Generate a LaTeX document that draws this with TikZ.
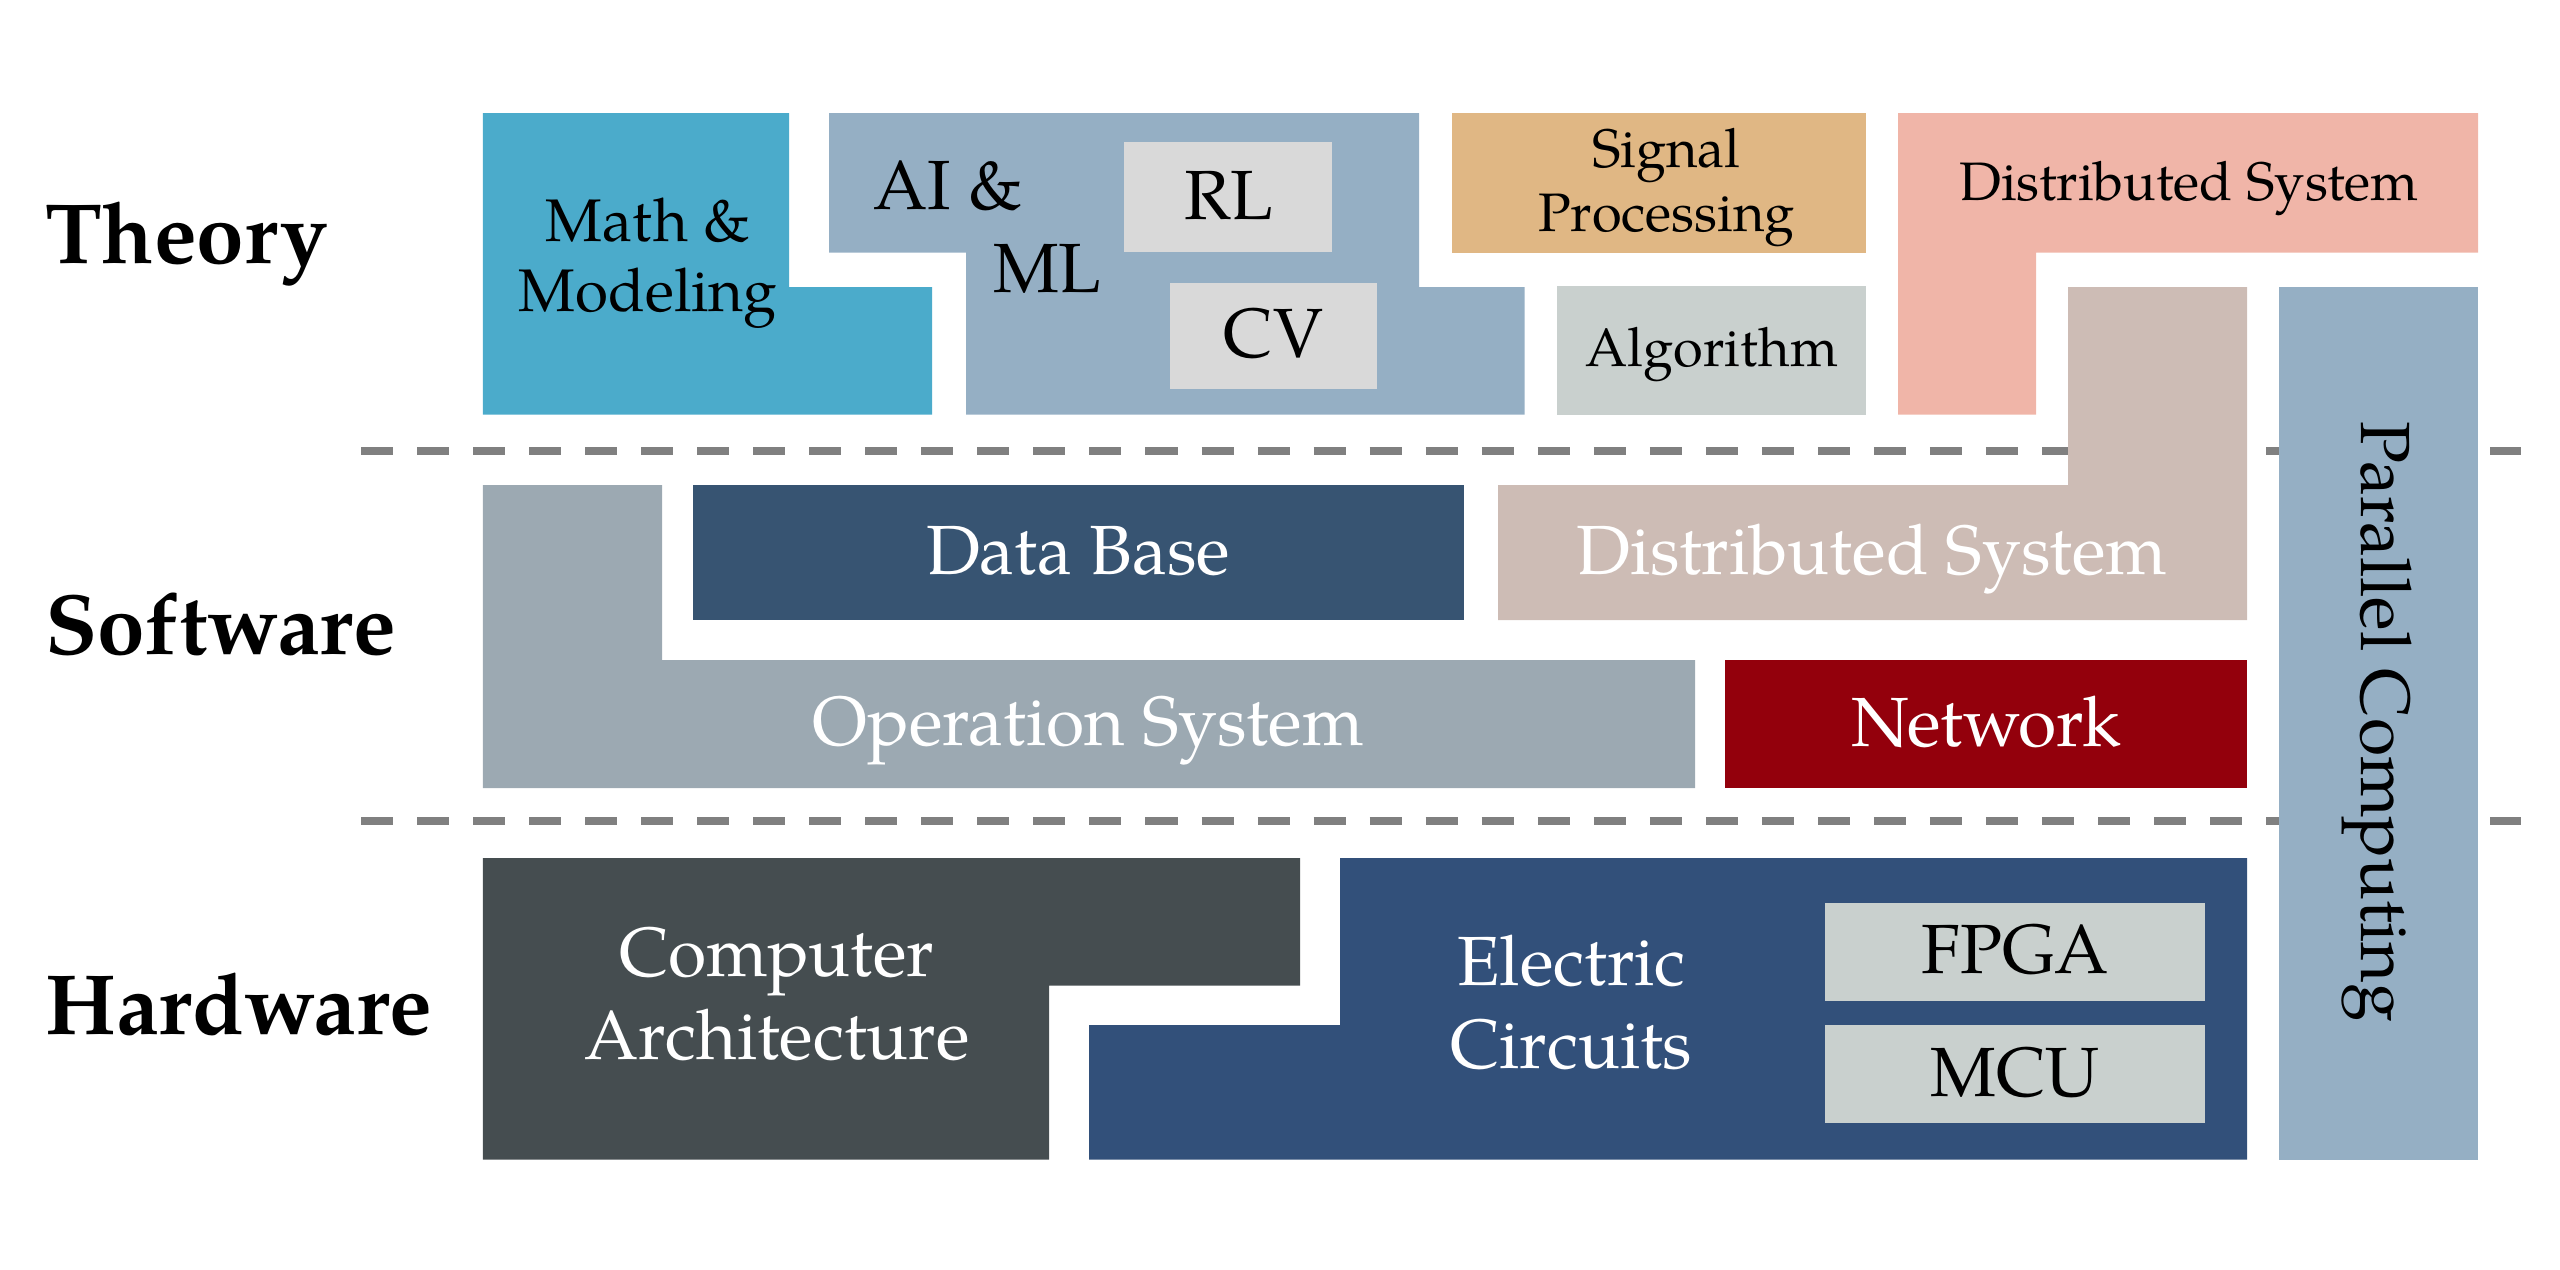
\documentclass[tikz,border=0pt]{standalone}
\usepackage{fontspec}
\setmainfont{TeX Gyre Pagella}
\definecolor{cMath}{HTML}{4BABCB}
\definecolor{cAI}{HTML}{95AFC4}
\definecolor{cSub}{HTML}{D9D9D9}
\definecolor{cSig}{HTML}{E0B784}
\definecolor{cAlg}{HTML}{C9D0CE}
\definecolor{cPink}{HTML}{F0B5A8}
\definecolor{cBeige}{HTML}{CDBCB5}
\definecolor{cOS}{HTML}{9CA9B2}
\definecolor{cDB}{HTML}{375472}
\definecolor{cNet}{HTML}{93000C}
\definecolor{cCA}{HTML}{454D50}
\definecolor{cEC}{HTML}{32507A}
\definecolor{cDash}{HTML}{808080}
\begin{document}
\begin{tikzpicture}[x=0.01cm,y=-0.01cm,
  lbl/.style={inner sep=0pt,outer sep=0pt},
  fbig/.style={font=\fontsize{19.8}{23.6}\selectfont},
  fmid/.style={font=\fontsize{17.1}{19.9}\selectfont},
  fsmall/.style={font=\fontsize{15.4}{18.3}\selectfont},
  fbold/.style={font=\fontsize{24.3}{29}\selectfont\bfseries},
  sepline/.style={draw=cDash,line width=0.08cm,dash pattern=on 0.32cm off 0.24cm}]
\useasboundingbox (0,0) rectangle (2560,1269);
% layer separators
\coordinate (s1a) at (361,450.7);
\coordinate (s1b) at (2521,450.7);
\coordinate (s2a) at (361,820.7);
\coordinate (s2b) at (2521,820.7);
\draw[sepline] (s1a) -- (s1b);
\draw[sepline] (s2a) -- (s2b);
% theory layer
\fill[cMath] (482.9,113) -- (789,113) -- (789,287) -- (932,287) -- (932,414.7) -- (482.9,414.7) -- cycle;
\fill[cAI] (829,113) -- (1419,113) -- (1419,287) -- (1524.6,287) -- (1524.6,414.7) -- (966,414.7) -- (966,252.7) -- (829,252.7) -- cycle;
\fill[cSub] (1124,142) rectangle (1332,252);
\fill[cSub] (1170,283) rectangle (1377,388.7);
\fill[cSig] (1452,113) rectangle (1866,252.7);
\fill[cAlg] (1557,286) rectangle (1866,414.7);
\fill[cPink] (1898,113) -- (2478,113) -- (2478,252.7) -- (2036,252.7) -- (2036,414.7) -- (1898,414.7) -- cycle;
% software layer
\fill[cBeige] (2068,287) -- (2247,287) -- (2247,620) -- (1498,620) -- (1498,485) -- (2068,485) -- cycle;
\fill[cOS] (482.9,485) -- (662,485) -- (662,660) -- (1695,660) -- (1695,788) -- (482.9,788) -- cycle;
\fill[cDB] (693,485) rectangle (1464,620);
\fill[cNet] (1725,660) rectangle (2247,788);
% hardware layer
\fill[cCA] (482.9,858) -- (1300,858) -- (1300,985.7) -- (1049,985.7) -- (1049,1159.7) -- (482.9,1159.7) -- cycle;
\fill[cEC] (1340.2,858) -- (2247,858) -- (2247,1159.7) -- (1089,1159.7) -- (1089,1025) -- (1340.2,1025) -- cycle;
\fill[cAlg] (1825,903) rectangle (2205,1001);
\fill[cAlg] (1825,1025) rectangle (2205,1123);
\fill[cAI] (2279,287) rectangle (2478,1159.7);
% labels
\node[lbl,fbold,anchor=base west] (theory) at (45,263) {Theory};
\node[lbl,fbold,anchor=base west] (software) at (45,654) {Software};
\node[lbl,fbold,anchor=base west] (hardware) at (45,1034.5) {Hardware};
\node[lbl,fmid,align=center] (math) at (648,263) {Math \&\\Modeling};
\node[lbl,fbig,align=left,anchor=west] (ai) at (873,227) {AI \&\\\hspace*{1.2cm}ML};
\node[lbl,fbig,anchor=base] (rl) at (1228.6,219.3) {RL};
\node[lbl,fbig,anchor=base] (cv) at (1273.6,357.7) {CV};
\node[lbl,fsmall,align=center] (sig) at (1666.5,187.4) {Signal\\Processing};
\node[lbl,fsmall,anchor=base] (alg) at (1712,366.7) {Algorithm};
\node[lbl,fsmall,anchor=base] (dst) at (2189,200) {Distributed System};
\node[lbl,fbig,white,anchor=base] (db) at (1078,574.3) {Data Base};
\node[lbl,fbig,white,anchor=base] (dss) at (1872,574.3) {Distributed System};
\node[lbl,fbig,white,anchor=base] (os) at (1088,745) {Operation System};
\node[lbl,fbig,white,anchor=base] (net) at (1986,746) {Network};
\node[lbl,fbig,white,align=center] (ca) at (777,994) {Computer\\Architecture};
\node[lbl,fbig,white,align=center] (ec) at (1571.5,1002) {Electric\\Circuits};
\node[lbl,fbig,anchor=base] (fpga) at (2015,973) {FPGA};
\node[lbl,fbig,anchor=base] (mcu) at (2015,1096.7) {MCU};
\node[lbl,fbig,rotate=-90,anchor=base] (par) at (2361.7,722) {Parallel Computing};
\end{tikzpicture}
\end{document}
